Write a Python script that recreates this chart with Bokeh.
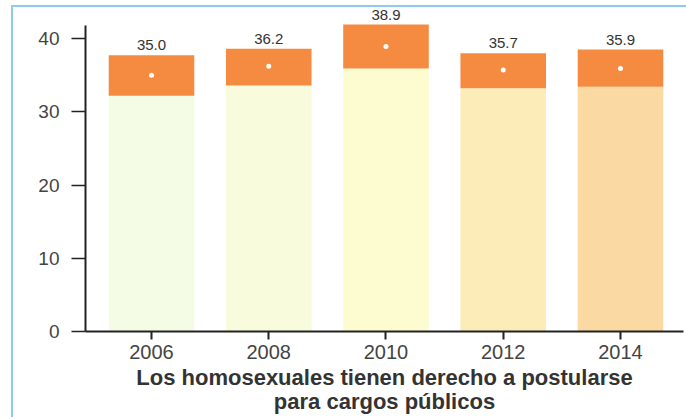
from bokeh.plotting import figure
from bokeh.models import Range1d, FixedTicker, ColumnDataSource
from bokeh.core.properties import value
from bokeh.embed import file_html
from bokeh.resources import INLINE

years = [2006, 2008, 2010, 2012, 2014]
labels = ["35.0", "36.2", "38.9", "35.7", "35.9"]
values = [35.0, 36.2, 38.9, 35.7, 35.9]
ci_low = [32.2, 33.6, 35.9, 33.2, 33.4]
ci_high = [37.7, 38.6, 41.9, 38.0, 38.5]
bar_colors = ["#f5fce6", "#f8fcdd", "#fdfbd0", "#fcecb8", "#fbd9a3"]
y_ticks = [0, 10, 20, 30, 40]
x_title = "Los homosexuales tienen derecho a postularse\npara cargos públicos"

src = ColumnDataSource(dict(year=years, label=labels, val=values, lo=ci_low,
                            hi=ci_high, color=bar_colors,
                            zero=[0] * len(years)))

border_css = {
    "background-color": "white",
    "background-image": "linear-gradient(#8ccbec,#8ccbec), linear-gradient(#8ccbec,#8ccbec)",
    "background-size": "2px 412px, 680px 2px",
    "background-position": "11px 5px, 11px 5px",
    "background-repeat": "no-repeat",
}

p = figure(width=686, height=419, output_backend="svg", toolbar_location=None,
           x_range=Range1d(2004.874, 2015.075), y_range=Range1d(0, 45.19),
           min_border_left=85, min_border_right=3, min_border_top=0,
           min_border_bottom=88, styles=border_css)
p.outline_line_color = None
p.grid.visible = False
p.background_fill_color = None
p.border_fill_color = None

W = 1.46
p.vbar(x="year", bottom="zero", top="lo", width=W, fill_color="color",
       line_color=None, source=src)
p.vbar(x="year", bottom="lo", top="hi", width=W, fill_color="#f58b40",
       line_color=None, source=src)
p.scatter(x="year", y="val", size=5, fill_color="white", line_color=None,
          source=src)
p.text(x="year", y="hi", text="label", source=src, text_align="center",
       text_baseline="middle", y_offset=-10, text_font_size="15px",
       text_color="#333333", text_font=value("Liberation Sans"))

xa = p.xaxis[0]
xa.ticker = FixedTicker(ticks=years)
xa.axis_line_width = 2
xa.axis_line_color = "#222222"
xa.major_tick_line_color = "#222222"
xa.major_tick_line_width = 2
xa.major_tick_in = 0
xa.major_tick_out = 8
xa.minor_tick_line_color = None
xa.major_label_standoff = 5
xa.major_label_text_font = "Liberation Sans"
xa.major_label_text_font_size = "20px"
xa.major_label_text_color = "#444444"
xa.axis_label = x_title
xa.axis_label_text_font = "Liberation Sans"
xa.axis_label_text_font_size = "22px"
xa.axis_label_text_font_style = "bold"
xa.axis_label_text_color = "#333333"
xa.axis_label_text_line_height = 0.98
xa.axis_label_standoff = 3

ya = p.yaxis[0]
ya.ticker = FixedTicker(ticks=y_ticks)
ya.bounds = (0, 41.8)
ya.axis_line_width = 2
ya.axis_line_color = "#222222"
ya.major_tick_line_color = "#222222"
ya.major_tick_line_width = 1.5
ya.major_tick_in = 0
ya.major_tick_out = 14
ya.minor_tick_line_color = None
ya.major_label_standoff = 12
ya.major_label_text_font = "Liberation Sans"
ya.major_label_text_font_size = "19px"
ya.major_label_text_color = "#444444"

open("out.html", "w").write(file_html(p, INLINE))
